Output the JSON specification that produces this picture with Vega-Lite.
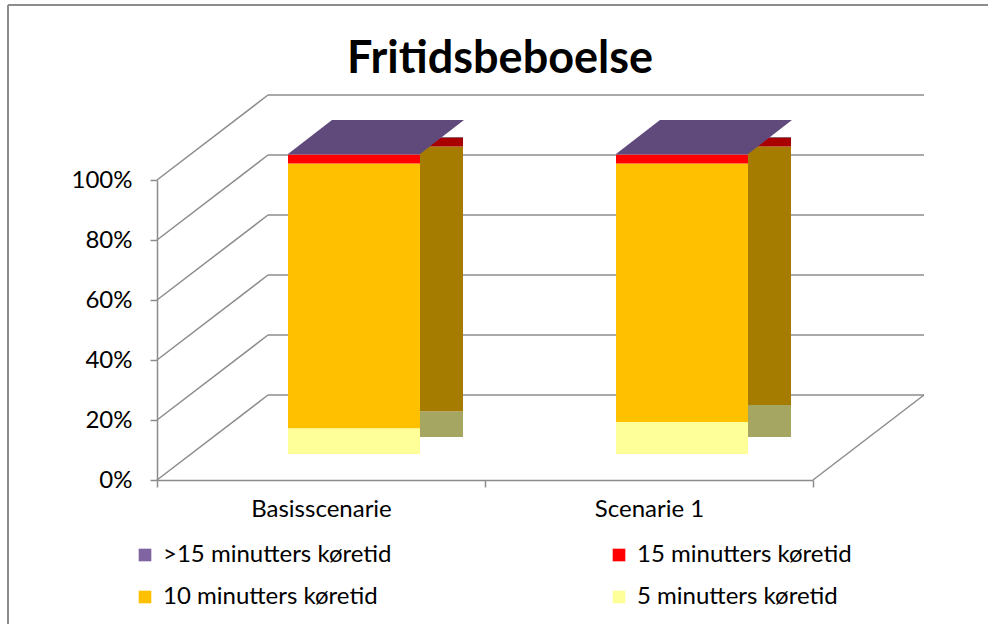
{
  "$schema": "https://vega.github.io/schema/vega-lite/v6.json",
  "width": 656,
  "height": 300,
  "autosize": {"type": "none"},
  "padding": {"left": 157, "top": 180, "right": 175, "bottom": 144},
  "background": "white",
  "title": {
    "text": "Fritidsbeboelse",
    "font": "Lato",
    "fontSize": 45,
    "fontWeight": "bold",
    "color": "#000000",
    "anchor": "middle",
    "dx": 15,
    "offset": -78
  },
  "datasets": {
    "bars": [
      {"scenario": "Basisscenarie", "serie": "5 minutters køretid", "o": 1, "value": 8.6},
      {"scenario": "Basisscenarie", "serie": "10 minutters køretid", "o": 2, "value": 88.2},
      {"scenario": "Basisscenarie", "serie": "15 minutters køretid", "o": 3, "value": 3.0},
      {"scenario": "Basisscenarie", "serie": ">15 minutters køretid", "o": 4, "value": 0.2},
      {"scenario": "Scenarie 1", "serie": "5 minutters køretid", "o": 1, "value": 10.7},
      {"scenario": "Scenarie 1", "serie": "10 minutters køretid", "o": 2, "value": 86.1},
      {"scenario": "Scenarie 1", "serie": "15 minutters køretid", "o": 3, "value": 3.0},
      {"scenario": "Scenarie 1", "serie": ">15 minutters køretid", "o": 4, "value": 0.2}
    ],
    "ticks": [{"t": 0}, {"t": 0.2}, {"t": 0.4}, {"t": 0.6}, {"t": 0.8}, {"t": 1}]
  },
  "config": {
    "view": {"stroke": null},
    "axis": {
      "labelFont": "Lato",
      "labelFontSize": 24,
      "labelColor": "#000000",
      "domainColor": "#8c8c8c",
      "tickColor": "#8c8c8c",
      "domainWidth": 1.5,
      "tickWidth": 1.5,
      "grid": false,
      "title": null
    },
    "axisY": {"tickSize": 7, "labelPadding": 18},
    "axisX": {"tickSize": 7, "labelPadding": 10, "tickBand": "extent", "labelAngle": 0},
    "legend": {
      "labelFont": "Lato",
      "labelFontSize": 24,
      "labelColor": "#000000",
      "labelLimit": 400
    }
  },
  "resolve": {"scale": {"color": "independent"}},
  "layer": [
    {
      "data": {"name": "ticks"},
      "mark": {"type": "rule", "color": "#8c8c8c", "strokeWidth": 1.5, "xOffset": 111, "x2Offset": 111, "yOffset": -85},
      "encoding": {
        "x": {"value": 0},
        "x2": {"value": 656},
        "y": {"field": "t", "type": "quantitative", "scale": {"domain": [0, 1], "nice": false}, "axis": {"values": [0, 0.2, 0.4, 0.6, 0.8, 1], "format": ".0%", "title": null}}
      }
    },
    {
      "data": {"name": "ticks"},
      "mark": {"type": "rule", "color": "#8c8c8c", "strokeWidth": 1.5, "x2Offset": 111, "y2Offset": -85},
      "encoding": {
        "x": {"value": 0},
        "x2": {"value": 0},
        "y": {"field": "t", "type": "quantitative", "axis": {"values": [0, 0.2, 0.4, 0.6, 0.8, 1], "format": ".0%", "title": null}},
        "y2": {"field": "t"}
      }
    },
    {
      "data": {"values": [{"t": 0}]},
      "mark": {"type": "rule", "color": "#8c8c8c", "strokeWidth": 1.5, "x2Offset": 111, "y2Offset": -85},
      "encoding": {
        "x": {"value": 656},
        "x2": {"value": 656},
        "y": {"field": "t", "type": "quantitative", "axis": {"values": [0, 0.2, 0.4, 0.6, 0.8, 1], "format": ".0%", "title": null}},
        "y2": {"field": "t"}
      }
    },
    {
      "data": {"values": [{"t": 1}]},
      "mark": {"type": "rule", "color": "#8c8c8c", "strokeWidth": 2, "xOffset": -149, "x2Offset": 200, "yOffset": -175},
      "encoding": {
        "x": {"value": 0},
        "x2": {"value": 656},
        "y": {"field": "t", "type": "quantitative", "axis": {"values": [0, 0.2, 0.4, 0.6, 0.8, 1], "format": ".0%", "title": null}}
      }
    },
    {
      "data": {"values": [{"t": 1, "b": 0}]},
      "mark": {"type": "rule", "color": "#8c8c8c", "strokeWidth": 2, "xOffset": -149, "yOffset": -175, "y2Offset": 150},
      "encoding": {
        "x": {"value": 0},
        "y": {"field": "t", "type": "quantitative", "axis": {"values": [0, 0.2, 0.4, 0.6, 0.8, 1], "format": ".0%", "title": null}},
        "y2": {"field": "b"}
      }
    },
    {
      "data": {"name": "bars"},
      "mark": {"type": "bar", "size": 43, "xOffset": 120.5, "x2Offset": 120.5, "yOffset": -43, "y2Offset": -43},
      "encoding": {
        "x": {"field": "scenario", "type": "nominal", "sort": ["Basisscenarie", "Scenarie 1"], "scale": {"paddingInner": 0, "paddingOuter": 0}, "axis": {"title": null}},
        "y": {"field": "value", "type": "quantitative", "stack": "normalize", "axis": {"values": [0, 0.2, 0.4, 0.6, 0.8, 1], "format": ".0%", "title": null}},
        "order": {"field": "o", "type": "quantitative"},
        "color": {
          "field": "serie",
          "type": "nominal",
          "scale": {
            "domain": [">15 minutters køretid", "10 minutters køretid", "15 minutters køretid", "5 minutters køretid"],
            "range": ["#4f3d66", "#a67c00", "#a80000", "#a6a663"]
          },
          "legend": null
        }
      }
    },
    {
      "data": {"name": "bars"},
      "mark": {"type": "bar", "size": 132, "xOffset": 33, "x2Offset": 33, "yOffset": -26, "y2Offset": -26},
      "encoding": {
        "x": {"field": "scenario", "type": "nominal", "sort": ["Basisscenarie", "Scenarie 1"], "axis": {"title": null}},
        "y": {"field": "value", "type": "quantitative", "stack": "normalize", "axis": {"values": [0, 0.2, 0.4, 0.6, 0.8, 1], "format": ".0%", "title": null}},
        "order": {"field": "o", "type": "quantitative"},
        "color": {
          "field": "serie",
          "type": "nominal",
          "scale": {
            "domain": [">15 minutters køretid", "10 minutters køretid", "15 minutters køretid", "5 minutters køretid"],
            "range": ["#8064a2", "#ffc000", "#ff0000", "#ffff99"]
          },
          "legend": {
            "title": null,
            "orient": "none",
            "legendX": -24,
            "legendY": 363,
            "columns": 2,
            "columnPadding": 215,
            "rowPadding": 18,
            "symbolType": "square",
            "symbolSize": 160,
            "symbolStrokeWidth": 0,
            "labelOffset": 6
          }
        }
      }
    },
    {
      "data": {"name": "bars"},
      "transform": [{"filter": "datum.o == 4"}],
      "mark": {
        "type": "point",
        "filled": true,
        "opacity": 1,
        "shape": "M-1,0L0.5,0L1,-0.386L-0.5,-0.386Z",
        "size": 30976,
        "color": "#604a7b",
        "strokeWidth": 0,
        "xOffset": 55,
        "yOffset": -26
      },
      "encoding": {
        "x": {"field": "scenario", "type": "nominal", "sort": ["Basisscenarie", "Scenarie 1"], "axis": {"title": null}},
        "y": {"datum": 1, "type": "quantitative", "axis": {"values": [0, 0.2, 0.4, 0.6, 0.8, 1], "format": ".0%", "title": null}}
      }
    }
  ]
}
